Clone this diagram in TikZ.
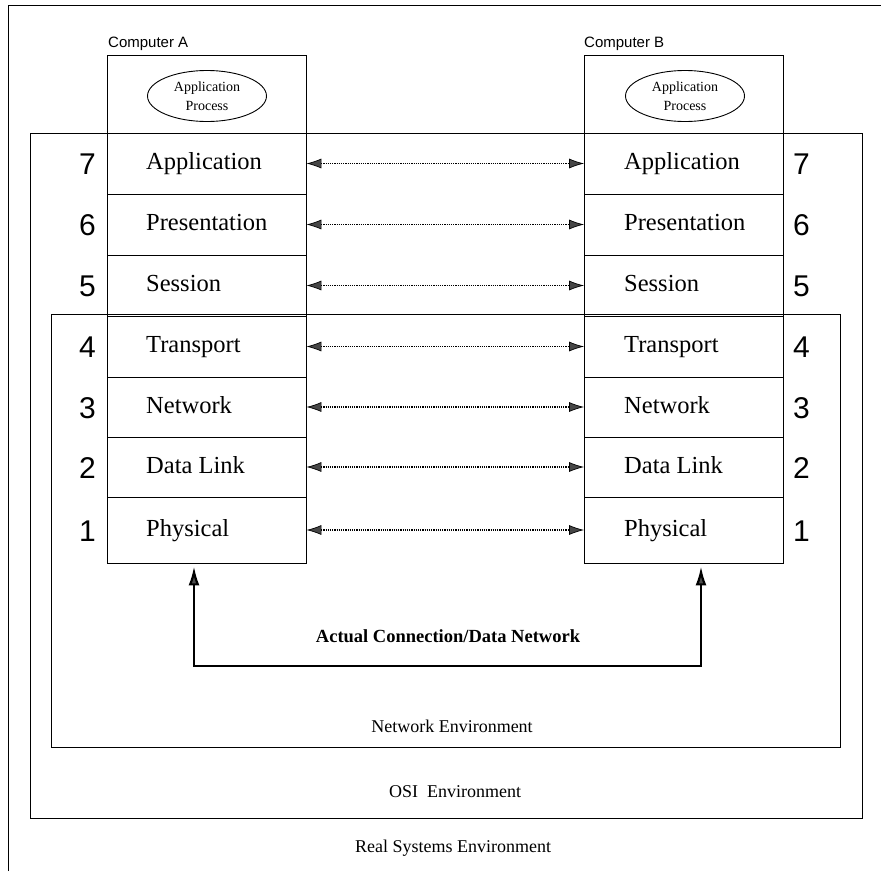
\documentclass[tikz,border=0pt]{standalone}
\usepackage{fontspec}
\setmainfont{Liberation Serif}
\newfontfamily\hv{Liberation Sans}
\usetikzlibrary{arrows.meta,shapes.geometric}
\begin{document}
\begin{tikzpicture}[x=1pt,y=-1pt,
  layerbox/.style={draw, line width=0.9pt, inner sep=0pt, minimum width=199pt},
  envbox/.style={draw, line width=0.9pt, inner sep=0pt},
  layertext/.style={inner sep=0pt, anchor=base west, font=\fontsize{24.5}{26}\selectfont},
  numtext/.style={inner sep=0pt, font=\hv\fontsize{30}{30}\selectfont},
  comptext/.style={inner sep=0pt, anchor=base west, font=\hv\fontsize{15}{18}\selectfont},
  proc/.style={draw, ellipse, line width=0.9pt, inner sep=0pt, minimum width=119pt, minimum height=51pt, align=center, font=\fontsize{14}{19}\selectfont},
  envtext/.style={inner sep=0pt, anchor=base, font=\fontsize{18}{20}\selectfont},
  dotarrow/.style={densely dotted, line width=1.2pt, {Latex[length=15pt,width=10pt,fill=gray!55!black,line width=0.7pt]}-{Latex[length=15pt,width=10pt,fill=gray!55!black,line width=0.7pt]}},
  conn/.style={line width=2.2pt, {Latex[length=19pt,width=11pt,fill=gray!60!black]}-{Latex[length=19pt,width=11pt,fill=gray!60!black]}, shorten <=3pt, shorten >=3pt}]
\useasboundingbox (0,0) rectangle (881,871);
% outer (real systems) frame
\draw[line width=0.9pt] (8,871) -- (8,5) -- (881,5);
% environment boxes
\node[envbox, minimum width=832pt, minimum height=685pt] (osi) at (446,475.5) {};
\node[envbox, minimum width=789pt, minimum height=433pt] (netenv) at (445.5,530.5) {};
% top boxes with application process
\node[layerbox, minimum height=78pt] (Atop) at (206.5,94) {};
\node[layerbox, minimum height=78pt] (Btop) at (684,94) {};
\node[proc] (Aproc) at (207,96) {Application\\Process};
\node[proc] (Bproc) at (685,96) {Application\\Process};
\node[comptext] (compA) at (108,47) {Computer A};
\node[comptext] (compB) at (584,47) {Computer B};
% layers
\foreach \i/\name/\t/\b in {7/Application/133/194, 6/Presentation/194/255, 5/Session/255/316, 4/Transport/316/377, 3/Network/377/437, 2/Data Link/437/497, 1/Physical/497/563} {
  \node[layerbox, minimum height={\b-\t}] (A\i) at (206.5,{(\t+\b)/2}) {};
  \node[layerbox, minimum height={\b-\t}] (B\i) at (684,{(\t+\b)/2}) {};
  \node[layertext] (At\i) at (146,{(\t+\b)/2+6}) {\name};
  \node[layertext] (Bt\i) at (624,{(\t+\b)/2+6}) {\name};
  \node[numtext, anchor=base east] (An\i) at (96,{(\t+\b)/2+11}) {\i};
  \node[numtext, anchor=base west] (Bn\i) at (793,{(\t+\b)/2+11}) {\i};
  \draw[dotarrow] (A\i.east) -- (B\i.west);
}
% actual connection
\coordinate (ca) at (194,666);
\coordinate (cb) at (701,666);
\draw[conn] (ca |- A1.south) -- (ca) -- (cb) -- (cb |- B1.south);
\node[inner sep=0pt, anchor=base, font=\bfseries\fontsize{18.5}{20}\selectfont] (actual) at (448,642) {Actual Connection/Data Network};
% environment labels
\node[envtext] (netlbl) at (452,732) {Network Environment};
\node[envtext] (osilbl) at (455,797) {OSI\ \ Environment};
\node[envtext] (reallbl) at (453,852) {Real Systems Environment};
\end{tikzpicture}
\end{document}
